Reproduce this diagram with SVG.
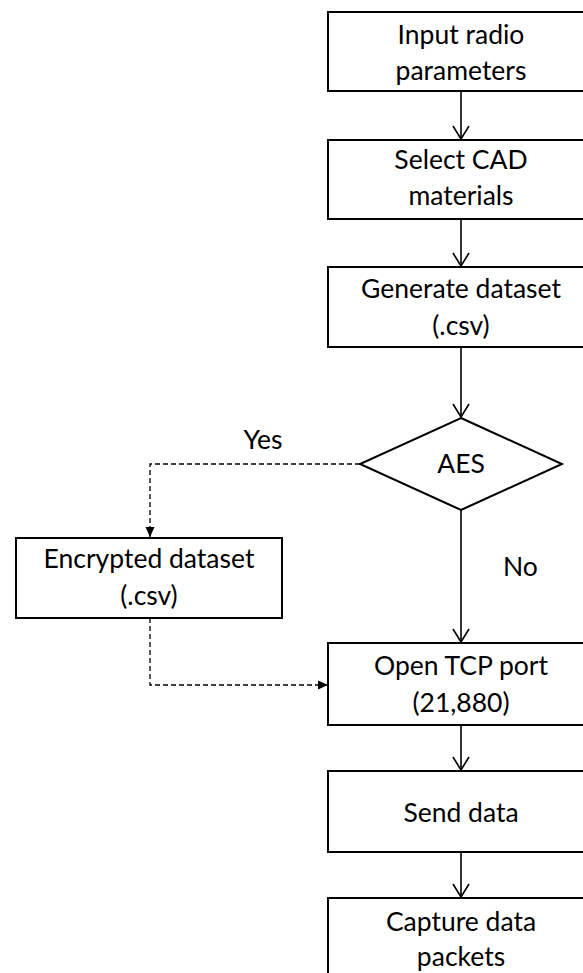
<svg xmlns="http://www.w3.org/2000/svg" width="583" height="973" viewBox="0 0 583 973">
<style>
.box{fill:#fff;stroke:#000;stroke-width:2}
.t{font-family:Lato,"Open Sans",sans-serif;font-size:26.5px;fill:#000;text-anchor:middle}
.c{fill:none;stroke:#000;stroke-width:1.6}
.d{fill:none;stroke:#000;stroke-width:1.3;stroke-dasharray:5,3}
</style>
<defs>
<marker id="open" markerWidth="16" markerHeight="18" refX="14" refY="9" orient="auto" markerUnits="userSpaceOnUse" viewBox="0 0 16 18">
<path d="M1,1 L14,9 L1,17" fill="none" stroke="#000" stroke-width="1.6"/>
</marker>
<marker id="fill" markerWidth="11" markerHeight="10" refX="10" refY="5" orient="auto" markerUnits="userSpaceOnUse" viewBox="0 0 11 10">
<path d="M0,0.5 L10,5 L0,9.5 Z" fill="#000"/>
</marker>
</defs>
<rect width="583" height="973" fill="#fff"/>
<g id="connectors">
<path class="c" d="M461,91 V139" marker-end="url(#open)"/>
<path class="c" d="M461,219 V266" marker-end="url(#open)"/>
<path class="c" d="M461,347 V417" marker-end="url(#open)"/>
<path class="c" d="M461,510 V642" marker-end="url(#open)"/>
<path class="c" d="M461,725 V770" marker-end="url(#open)"/>
<path class="c" d="M461,852 V897" marker-end="url(#open)"/>
<path class="d" d="M360,464 H150 V537" marker-end="url(#fill)"/>
<path class="d" d="M150,618 V685 H328" marker-end="url(#fill)"/>
<text class="t" x="263" y="449">Yes</text>
<text class="t" x="503" y="576" style="text-anchor:start">No</text>
</g>
<g id="input">
<rect class="box" x="328" y="12" width="266" height="79"/>
<text class="t" x="461" y="44">Input radio</text>
<text class="t" x="461" y="80">parameters</text>
</g>
<g id="select">
<rect class="box" x="328" y="140" width="266" height="79"/>
<text class="t" x="461" y="169">Select CAD</text>
<text class="t" x="461" y="205">materials</text>
</g>
<g id="generate">
<rect class="box" x="328" y="267" width="266" height="80"/>
<text class="t" x="461" y="298">Generate dataset</text>
<text class="t" x="461" y="335">(.csv)</text>
</g>
<g id="aes">
<path class="box" d="M461,418 L562,464 L461,510 L360,464 Z"/>
<text class="t" x="461" y="473">AES</text>
</g>
<g id="encrypted">
<rect class="box" x="16" y="538" width="266" height="80"/>
<text class="t" x="149" y="568">Encrypted dataset</text>
<text class="t" x="149" y="605">(.csv)</text>
</g>
<g id="tcp">
<rect class="box" x="328" y="643" width="266" height="82"/>
<text class="t" x="461" y="675">Open TCP port</text>
<text class="t" x="461" y="712">(21,880)</text>
</g>
<g id="send">
<rect class="box" x="328" y="771" width="266" height="81"/>
<text class="t" x="461" y="822">Send data</text>
</g>
<g id="capture">
<rect class="box" x="328" y="898" width="266" height="90"/>
<text class="t" x="461" y="931">Capture data</text>
<text class="t" x="461" y="966">packets</text>
</g>
</svg>
